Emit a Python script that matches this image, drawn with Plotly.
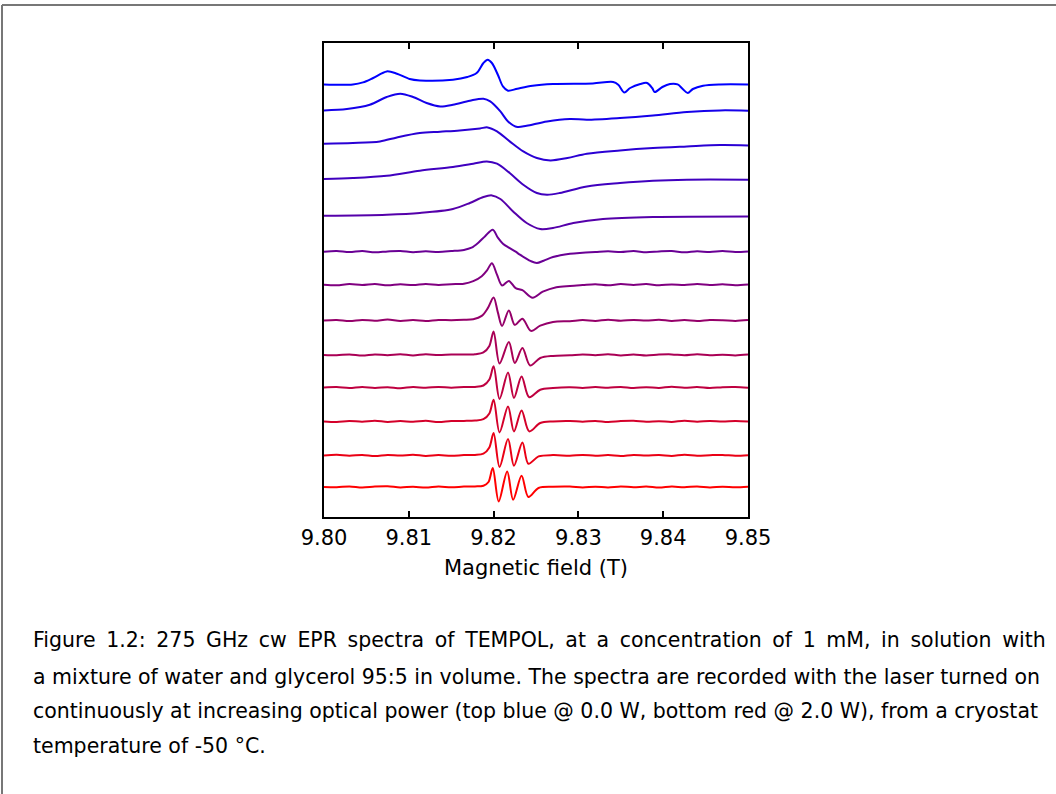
import plotly.graph_objects as go

# ---------------- data (field in T, signal in arbitrary units) ----------------
TICK_VALUES = [9.80, 9.81, 9.82, 9.83, 9.84, 9.85]
TICK_LABELS = ["9.80", "9.81", "9.82", "9.83", "9.84", "9.85"]

# vertical offsets of the stacked spectra (top = 0.0 W ... bottom = 2.0 W)
BASELINE_OFFSETS = [432.6, 406.6, 373.3, 338.0, 301.3, 265.3, 232.3, 196.6, 162.1, 129.5, 95.6, 61.6, 30.0]

FIELD_1 = [9.800, 9.8034, 9.8046, 9.8058, 9.8074, 9.8086, 9.8101, 9.8113, 9.8152, 9.8169, 9.8180, 9.8188,
           9.8193, 9.8198, 9.8205, 9.8211, 9.8217, 9.8228, 9.8246, 9.8270, 9.8317, 9.8341, 9.8347, 9.8354,
           9.8361, 9.8373, 9.8381, 9.8387, 9.8390, 9.8399, 9.8408, 9.8417, 9.8423, 9.8429, 9.8435, 9.8447,
           9.8467, 9.850]
SIGNAL_1 = [0.0, 0.0, 2.0, 6.4, 13.0, 10.7, 5.4, 4.0, 4.7, 7.4, 11.4, 21.4,
            24.7, 21.4, 9.7, -2.0, -6.3, -4.3, -1.3, 0.4, 1.0, 2.4, -0.3, -8.0,
            -3.6, 0.4, 1.4, -3.6, -7.6, -2.6, 0.4, 0.0, -4.6, -8.6, -4.6, -1.3,
            0.0, 0.0]

FIELD_2 = [9.800, 9.8027, 9.8054, 9.8074, 9.8090, 9.8105, 9.8121, 9.8137, 9.8152, 9.8172, 9.8188, 9.8196,
           9.8208, 9.8217, 9.8228, 9.8239, 9.8263, 9.8290, 9.8310, 9.8349, 9.8388, 9.8428, 9.8467, 9.850]
SIGNAL_2 = [0.0, 1.4, 5.7, 13.4, 16.7, 13.4, 7.4, 4.0, 5.7, 9.7, 11.7, 9.0,
            -1.0, -11.0, -16.6, -15.3, -11.0, -8.6, -9.3, -7.6, -5.0, -1.6, 0.0, -0.3]

FIELD_3 = [9.800, 9.8034, 9.8066, 9.8086, 9.8113, 9.8137, 9.8160, 9.8184, 9.8193, 9.8204, 9.8219, 9.8235,
           9.8251, 9.8267, 9.8287, 9.8310, 9.8349, 9.8388, 9.8428, 9.8467, 9.850]
SIGNAL_3 = [0.0, 0.7, 2.3, 6.3, 10.7, 12.0, 13.3, 15.3, 16.3, 12.3, 2.3, -7.7,
            -14.3, -16.7, -14.3, -10.0, -6.7, -4.3, -2.7, -1.3, -1.7]

FIELD_4 = [9.800, 9.8034, 9.8074, 9.8113, 9.8152, 9.8176, 9.8192, 9.8204, 9.8219, 9.8235, 9.8251, 9.8263,
           9.8278, 9.8310, 9.8349, 9.8388, 9.8428, 9.850]
SIGNAL_4 = [0.0, 1.0, 3.3, 8.3, 12.0, 15.3, 17.6, 15.3, 6.0, -5.7, -14.0, -15.7,
            -14.0, -7.4, -4.0, -1.7, -0.7, -0.7]

FIELD_5 = [9.800, 9.8074, 9.8113, 9.8152, 9.8172, 9.8188, 9.8198, 9.8208, 9.8223, 9.8239, 9.8255, 9.8270,
           9.8294, 9.8329, 9.8388, 9.850]
SIGNAL_5 = [0.0, 1.0, 2.7, 6.7, 12.7, 18.7, 20.3, 16.7, 4.3, -7.3, -13.3, -12.3,
            -7.3, -3.3, -1.3, -0.7]

# shared field grids for the noisy baselines of spectra 6-13
FIELD_LEFT = [9.800, 9.8015, 9.803, 9.8045, 9.806, 9.8075, 9.809, 9.8105, 9.812, 9.8135, 9.815, 9.8165]
FIELD_RIGHT = [9.829, 9.8305, 9.832, 9.8335, 9.835, 9.8365, 9.838, 9.8395, 9.841, 9.8425, 9.844, 9.8455,
               9.847, 9.8485, 9.850]

NOISE_LEFT_6 = [0.0, 0.6, -0.4, 0.7, -0.6, 0.3, 0.8, -0.5, 0.4, -0.3, 0.6, 1.8]
CORE_FIELD_6 = [9.8174, 9.8182, 9.8190, 9.8199, 9.8205, 9.8211, 9.8218, 9.8226, 9.8231, 9.8244, 9.8251, 9.8259, 9.8270]
CORE_SIGNAL_6 = [4.0, 9.0, 15.5, 22.0, 14.0, 8.0, 4.0, 0.0, -3.0, -9.5, -11.3, -9.0, -5.3]
NOISE_RIGHT_6 = [-2.0, -1.0, -0.3, 0.5, -0.4, 0.6, -0.5, 0.3, 0.7, -0.6, 0.4, -0.3, 0.6, -0.4, 0.2]

NOISE_LEFT_7 = [0.0, -0.5, 0.6, -0.3, 0.7, -0.6, 0.4, -0.4, 0.8, -0.2, 0.5, 1.0]
CORE_FIELD_7 = [9.8176, 9.8186, 9.8192, 9.8198, 9.8204, 9.8210, 9.8218, 9.8226, 9.8234, 9.8246, 9.8258, 9.8274]
CORE_SIGNAL_7 = [3.5, 8.5, 14.0, 21.5, 10.0, -0.8, 3.8, -3.5, -5.5, -13.0, -7.0, -2.5]
NOISE_RIGHT_7 = [-1.2, -0.3, 0.5, -0.5, 0.6, -0.2, 0.7, -0.6, 0.3, -0.4, 0.6, -0.3, 0.4, -0.6, 0.2]

NOISE_LEFT_8 = [0.0, 0.5, -0.6, 0.4, -0.3, 0.8, -0.5, 0.3, -0.6, 0.5, 0.2, 0.6]
CORE_FIELD_8 = [9.8176, 9.8186, 9.8193, 9.8200, 9.8205, 9.8210, 9.8218, 9.8225, 9.8234, 9.8244, 9.8255, 9.8270]
CORE_SIGNAL_8 = [1.2, 4.5, 12.0, 23.0, 8.0, -5.5, 10.0, -4.5, 1.7, -10.5, -5.3, -1.5]
NOISE_RIGHT_8 = [-0.8, 0.3, -0.5, 0.6, -0.4, 0.5, -0.2, 0.7, -0.5, 0.3, -0.6, 0.4, 0.2, -0.5, 0.3]

NOISE_LEFT_9 = [0.0, -0.4, 0.5, -0.7, 0.4, -0.3, 0.6, -0.5, 0.7, -0.2, 0.4, 0.3]
CORE_FIELD_9 = [9.8178, 9.8188, 9.8195, 9.8200, 9.8207, 9.8218, 9.8225, 9.8234, 9.8243, 9.8255, 9.8270]
CORE_SIGNAL_9 = [0.6, 2.5, 9.0, 23.5, -8.5, 12.9, -8.1, 6.9, -10.6, -3.1, -1.0]
NOISE_RIGHT_9 = [-0.4, 0.5, -0.3, 0.6, -0.5, 0.4, -0.6, 0.3, 0.5, -0.4, 0.6, -0.3, 0.2, -0.5, 0.3]

NOISE_LEFT_10 = [0.0, 0.4, -0.5, 0.6, -0.4, 0.3, -0.7, 0.5, -0.3, 0.6, -0.2, 0.4]
CORE_FIELD_10 = [9.8178, 9.8188, 9.8195, 9.8200, 9.8207, 9.8217, 9.8224, 9.8233, 9.8242, 9.8255, 9.8270]
CORE_SIGNAL_10 = [0.6, 2.0, 8.0, 21.2, -11.5, 15.1, -10.5, 11.1, -9.7, -2.2, -0.5]
NOISE_RIGHT_10 = [0.3, -0.5, 0.4, -0.3, 0.6, -0.5, 0.3, -0.4, 0.7, -0.3, 0.4, -0.6, 0.3, 0.5, -0.2]

NOISE_LEFT_11 = [0.0, -0.5, 0.4, -0.3, 0.7, -0.5, 0.3, -0.4, 0.6, -0.6, 0.4, 0.5]
CORE_FIELD_11 = [9.8178, 9.8188, 9.8195, 9.8200, 9.8207, 9.8217, 9.8224, 9.8233, 9.8242, 9.8255, 9.8270]
CORE_SIGNAL_11 = [0.8, 2.2, 8.0, 21.7, -11.0, 15.0, -10.0, 11.0, -10.0, -1.6, 0.0]
NOISE_RIGHT_11 = [0.4, -0.3, 0.5, -0.6, 0.3, 0.6, -0.4, 0.2, -0.5, 0.6, -0.3, 0.4, -0.2, 0.5, 0.0]

NOISE_LEFT_12 = [0.0, 0.6, -0.3, 0.5, -0.6, 0.4, -0.2, 0.7, -0.5, 0.3, -0.4, 0.3]
CORE_FIELD_12 = [9.8178, 9.8188, 9.8195, 9.8200, 9.8207, 9.8217, 9.8224, 9.8234, 9.8241, 9.8253, 9.8270]
CORE_SIGNAL_12 = [0.5, 1.8, 8.0, 22.4, -11.6, 16.4, -10.3, 13.0, -8.3, -1.0, 0.3]
NOISE_RIGHT_12 = [-0.3, 0.5, -0.4, 0.3, -0.6, 0.5, -0.2, 0.4, -0.5, 0.6, -0.3, 0.2, 0.5, -0.4, 0.2]

NOISE_LEFT_13 = [0.0, -0.3, 0.6, -0.5, 0.4, 0.7, -0.4, 0.3, -0.6, 0.5, -0.3, 0.4]
CORE_FIELD_13 = [9.8178, 9.8188, 9.8194, 9.8199, 9.8206, 9.8216, 9.8223, 9.8233, 9.8241, 9.8253, 9.8270]
CORE_SIGNAL_13 = [0.6, 1.3, 5.0, 19.0, -14.4, 15.6, -12.7, 11.3, -10.0, -1.0, 0.2]
NOISE_RIGHT_13 = [0.4, -0.5, 0.3, -0.4, 0.6, -0.3, 0.5, -0.6, 0.4, -0.2, 0.6, -0.4, 0.3, -0.3, 0.3]

CAPTION_LINES = [
    "Figure 1.2: 275 GHz cw EPR spectra of TEMPOL, at a concentration of 1 mM, in solution with",
    "a mixture of water and glycerol 95:5 in volume. The spectra are recorded with the laser turned on",
    "continuously at increasing optical power (top blue @ 0.0 W, bottom red @ 2.0 W), from a cryostat",
    "temperature of -50 °C.",
]
# lines 1-3 are justified to the full text width in the original page
CAPTION_JUSTIFIED = [True, False, False, False]
X_TITLE = "Magnetic field (T)"

# ---------------- assemble spectra ----------------
spectra = [
    (FIELD_1, SIGNAL_1), (FIELD_2, SIGNAL_2), (FIELD_3, SIGNAL_3), (FIELD_4, SIGNAL_4), (FIELD_5, SIGNAL_5),
]
noisy = [
    (NOISE_LEFT_6, CORE_FIELD_6, CORE_SIGNAL_6, NOISE_RIGHT_6),
    (NOISE_LEFT_7, CORE_FIELD_7, CORE_SIGNAL_7, NOISE_RIGHT_7),
    (NOISE_LEFT_8, CORE_FIELD_8, CORE_SIGNAL_8, NOISE_RIGHT_8),
    (NOISE_LEFT_9, CORE_FIELD_9, CORE_SIGNAL_9, NOISE_RIGHT_9),
    (NOISE_LEFT_10, CORE_FIELD_10, CORE_SIGNAL_10, NOISE_RIGHT_10),
    (NOISE_LEFT_11, CORE_FIELD_11, CORE_SIGNAL_11, NOISE_RIGHT_11),
    (NOISE_LEFT_12, CORE_FIELD_12, CORE_SIGNAL_12, NOISE_RIGHT_12),
    (NOISE_LEFT_13, CORE_FIELD_13, CORE_SIGNAL_13, NOISE_RIGHT_13),
]
for nl, cf, cs, nr in noisy:
    spectra.append((FIELD_LEFT + cf + FIELD_RIGHT, nl + cs + nr))

# ---------------- layout geometry (pixels) ----------------
W, H = 1056, 794
PL, PR, PT, PB = 324, 748, 43, 517


def xp(px):
    return (px - PL) / (PR - PL)


def yp(py):
    return (PB - py) / (PB - PT)


fig = go.Figure()
n = len(spectra)
for i, (fx, sy) in enumerate(spectra):
    t = i / (n - 1)
    color = f"rgb({round(255 * t)},0,{round(255 * (1 - t))})"
    fig.add_trace(go.Scatter(
        x=fx, y=[BASELINE_OFFSETS[i] + v for v in sy], mode="lines",
        line=dict(color=color, width=2, shape="spline", smoothing=0.9),
        showlegend=False, hoverinfo="skip",
    ))

fig.update_layout(
    width=W, height=H,
    margin=dict(l=PL, r=W - PR, t=PT, b=H - PB, pad=0),
    paper_bgcolor="white", plot_bgcolor="white",
    font=dict(family="DejaVu Sans", color="black"),
    xaxis=dict(
        range=[9.80, 9.85], tickvals=TICK_VALUES, ticktext=TICK_LABELS,
        ticks="inside", ticklen=6, tickwidth=1.5, tickcolor="black",
        mirror="allticks", showline=True, linewidth=2, linecolor="black",
        showgrid=False, zeroline=False,
        tickfont=dict(family="DejaVu Sans", size=21, color="black"),
        ticklabelstandoff=1,
    ),
    yaxis=dict(
        range=[0, PB - PT], showticklabels=False, ticks="",
        showline=True, mirror=True, linewidth=2, linecolor="black",
        showgrid=False, zeroline=False,
    ),
)

annotations = [dict(
    text=X_TITLE, x=xp(536), y=yp(568), xref="paper", yref="paper",
    xanchor="center", yanchor="middle", showarrow=False,
    font=dict(family="DejaVu Sans", size=21, color="black"),
)]
caption_y = [640, 677, 711, 746]
for line, cy, just in zip(CAPTION_LINES, caption_y, CAPTION_JUSTIFIED):
    txt = line.replace(" ", " \u2009") if just else line
    annotations.append(dict(
        text=txt, x=xp(31), y=yp(cy), xref="paper", yref="paper",
        xanchor="left", yanchor="middle", showarrow=False,
        font=dict(family="DejaVu Sans", size=20.5, color="black"),
    ))
fig.update_layout(annotations=annotations)

# outer page frame (gray)
fig.add_shape(type="line", xref="paper", yref="paper", x0=xp(2), x1=xp(1060), y0=yp(5), y1=yp(5),
              line=dict(color="#777777", width=2))
fig.add_shape(type="line", xref="paper", yref="paper", x0=xp(2), x1=xp(2), y0=yp(5), y1=yp(800),
              line=dict(color="#777777", width=2))

fig.write_html("out.html", config={"displayModeBar": False},
               post_script="document.body.style.margin='0';document.body.style.overflow='hidden';")
